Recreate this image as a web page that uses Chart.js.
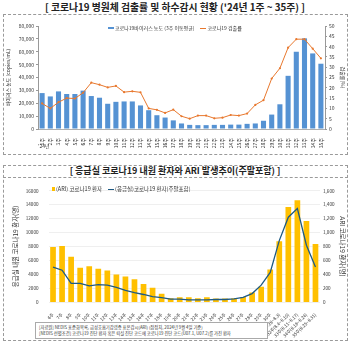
<!DOCTYPE html>
<html>
<head>
<meta charset="utf-8">
<script src="https://cdn.jsdelivr.net/npm/chart.js@4.4.1/dist/chart.umd.min.js"></script>
<style>
  body { margin: 0; width: 350px; height: 341px; background: #fff; position: relative; overflow: hidden;
         font-family: "Noto Sans CJK KR", "Noto Sans", sans-serif; color: #222; }
  .title { position: absolute; left: 0; width: 350px; text-align: center; font-weight: bold; font-size: 9px; line-height: 12px; }
  .box { position: absolute; border: 1px dashed #9a9a9a; box-sizing: border-box; }
  .legend { position: absolute; display: flex; align-items: center; font-size: 5px; line-height: 6px; white-space: nowrap; color: #333; }
  .legend span.sw { display: inline-block; margin-right: 1px; }
  canvas { position: absolute; }
  .note { position: absolute; left: 35px; top: 322px; width: 233px; height: 17px; border: 1px solid #aaa; box-sizing: border-box;
          background: #fff; font-size: 4.3px; line-height: 5.5px; padding: 2px 3px; white-space: nowrap; overflow: hidden; color: #333; }
</style>
</head>
<body>
<div class="title" style="top:1px; font-size:9.8px">[ 코로나19 병원체 검출률 및 하수감시 현황 ('24년 1주 ~ 35주) ]</div>
<div class="box" style="left:3px; top:14px; width:345px; height:141px"></div>
<div class="box" style="left:3px; top:165px; width:345px; height:176px"></div>
<div class="box" style="left:3px; top:165px; width:345px; height:13px; border-left:none; border-right:none; border-top:none"></div>
<div class="title" style="top:165px">[ 응급실 코로나19 내원 환자와 ARI 발생추이(주말포함) ]</div>

<canvas id="chart1" width="345" height="140" style="left:3px; top:15px; width:345px; height:140px"></canvas>
<canvas id="chart2" width="345" height="162" style="left:3px; top:178px; width:345px; height:162px"></canvas>

<div class="legend" id="legend1" style="left:108px; top:25px"></div>
<div class="legend" id="legend2" style="left:52px; top:186px; font-size:5.5px"></div>

<div class="note">
  [자료원] NEDIS 표준화목록, 급성호흡기감염증 표본감시(ARI) (잠정치, 2024년 9월 4일 기준)<br>
  [NEDIS 선별조건] 코로나19 진단 환자 혹은 퇴실 진단 코드에 코로나19 진단 코드(U07.1, U07.2)를 가진 환자
</div>

<script>
// 상단 차트: 하수 감시 바이러스 농도 + 병원체 검출률
const topWeeks = ["1주","2주","3주","4주","5주","6주","7주","8주","9주","10주","11주","12주","13주","14주","15주","16주","17주","18주",
  "19주","20주","21주","22주","23주","24주","25주","26주","27주","28주","29주","30주","31주","32주","33주","34주","35주"];
const virusConc = [27900, 25300, 29200, 27200, 27200, 29800, 25600, 24300, 19600, 21100, 21400, 21400, 18300, 14600, 10700, 8900, 6700, 4300,
  3200, 3000, 3000, 3200, 3200, 3400, 3400, 4000, 4300, 6400, 11200, 19200, 41300, 60000, 70400, 58700, 50700];
const detectRate = [12.4, 10.0, 13.0, 15.0, 14.8, 17.6, 22.5, 21.5, 20.2, 20.9, 17.9, 18.3, 17.8, 10.0, 9.3, 7.8, 9.4, 6.2,
  5.0, 6.5, 6.5, 5.2, 5.5, 6.8, 6.5, 7.5, 11.7, 14.0, 24.5, 29.5, 39.5, 43.6, 43.6, 39.0, 34.3];
const topLeftTicks = [0, 10000, 20000, 30000, 40000, 50000, 60000, 70000, 80000];
const topRightTicks = [0, 5, 10, 15, 20, 25, 30, 35, 40, 45, 50];

// 하단 차트: 응급실 / ARI 코로나19 환자
const bottomWeeks = ["6주","7주","8주","9주","10주","11주","12주","13주","14주","15주","16주","17주","18주","19주","20주",
  "21주","22주","23주","24주","25주","26주","27주","28주","29주","30주",
  "31주(7.28~8.3)","32주(8.4~8.10)","33주(8.11~8.17)","34주(8.18~8.24)","35주(8.25~8.31)"];
const ariPatients = [790, 807, 650, 493, 516, 480, 453, 395, 368, 327, 260, 206, 117, 54, 70,
  67, 54, 67, 49, 49, 54, 72, 135, 220, 466, 874, 1368, 1462, 1166, 834];
const erPatients = [5020, 4570, 2690, 2690, 2330, 2510, 2420, 2110, 1660, 1350, 1080, 760, 630, 400, 400,
  310, 310, 310, 360, 360, 450, 670, 1210, 2420, 4260, 8830, 12200, 13450, 8160, 5020];
const bottomLeftTicks = [0, 2000, 4000, 6000, 8000, 10000, 12000, 14000, 16000];
const bottomRightTicks = [0, 200, 400, 600, 800, 1000, 1200, 1400, 1600];

const blue = "#5592D3", orange = "#E8782E", gold = "#FFC000", navy = "#1E5A84";
const axisFont = { family: "Noto Sans CJK KR", size: 5 };
const fmt = v => v.toLocaleString("en-US");

const chart1 = new Chart(document.getElementById("chart1"), {
  data: {
    labels: topWeeks,
    datasets: [
      { type: "line", label: "코로나19 검출률", data: detectRate, yAxisID: "y1", borderColor: orange, backgroundColor: orange,
        borderWidth: 1, pointRadius: 1.1, pointBorderWidth: 0, order: 0 },
      { type: "bar", label: "코로나19바이러스 농도 (3주 이동평균)", data: virusConc, yAxisID: "y", backgroundColor: blue,
        barPercentage: 0.62, categoryPercentage: 1, order: 1 }
    ]
  },
  options: {
    responsive: false, animation: false,
    layout: { padding: { top: 11, bottom: 6, left: 0, right: 0 } },
    plugins: { legend: { display: false }, tooltip: { enabled: false } },
    scales: {
      x: {
        grid: { display: false }, border: { color: "#b0b0b0" },
        ticks: { font: axisFont, color: "#333", autoSkip: false, minRotation: 90, maxRotation: 90, padding: 1 },
        title: { display: true, text: "'24년", align: "start", font: axisFont, color: "#333", padding: 0 },
        afterFit(s) { s.height = 20; }
      },
      y: {
        min: 0, max: 80000,
        afterBuildTicks(s) { s.ticks = topLeftTicks.map(v => ({ value: v })); },
        ticks: { font: axisFont, color: "#333", callback: fmt, padding: 2 },
        grid: { display: true, drawOnChartArea: false, tickLength: 2, color: "#999" }, border: { color: "#999" },
        title: { display: true, text: "바이러스 농도 (copies/mL)", font: axisFont, color: "#333", padding: { top: 2, bottom: 0 } },
        afterFit(s) { s.width = 35; }
      },
      y1: {
        position: "right", min: 0, max: 50,
        afterBuildTicks(s) { s.ticks = topRightTicks.map(v => ({ value: v })); },
        ticks: { font: axisFont, color: "#333", padding: 2 },
        grid: { display: true, drawOnChartArea: false, tickLength: 2, color: "#999" }, border: { color: "#999" },
        title: { display: true, text: "검출률(%)", font: axisFont, color: "#333", padding: { top: 2, bottom: 2 } },
        afterFit(s) { s.width = 23; }
      }
    }
  }
});

const chart2 = new Chart(document.getElementById("chart2"), {
  data: {
    labels: bottomWeeks,
    datasets: [
      { type: "line", label: "(응급실)코로나19 환자(주말포함)", data: erPatients, yAxisID: "y", borderColor: navy,
        backgroundColor: navy, borderWidth: 1.3, pointRadius: 0, order: 0 },
      { type: "bar", label: "(ARI) 코로나19 환자", data: ariPatients, yAxisID: "y1", backgroundColor: gold,
        barPercentage: 0.63, categoryPercentage: 1, order: 1 }
    ]
  },
  options: {
    responsive: false, animation: false,
    layout: { padding: { top: 5, bottom: 0, left: 0, right: 0 } },
    plugins: { legend: { display: false }, tooltip: { enabled: false } },
    scales: {
      x: {
        grid: { display: false }, border: { display: false },
        ticks: { font: { family: "Noto Sans CJK KR", size: 4.5 }, color: "#333", autoSkip: false, minRotation: 45, maxRotation: 45, padding: 2 },
        afterFit(s) { s.height = 38; }
      },
      y: {
        min: 0, max: 16000,
        afterBuildTicks(s) { s.ticks = bottomLeftTicks.map(v => ({ value: v })); },
        ticks: { font: { family: "Noto Sans CJK KR", size: 4.6 }, color: "#333", callback: v => String(v), padding: 10 },
        grid: { color: "#efefef", drawTicks: false }, border: { display: false },
        title: { display: true, text: "응급실 내원 코로나19 환자(명)", font: { family: "Noto Sans CJK KR", size: 6.5 }, color: "#333", padding: { top: 9, bottom: 0 } },
        afterFit(s) { s.width = 45.5; }
      },
      y1: {
        position: "right", min: 0, max: 1600,
        afterBuildTicks(s) { s.ticks = bottomRightTicks.map(v => ({ value: v })); },
        ticks: { font: { family: "Noto Sans CJK KR", size: 4.6 }, color: "#333", callback: fmt, padding: 3 },
        grid: { display: false, drawTicks: false }, border: { display: false },
        title: { display: true, text: "ARI 코로나19 환자(명)", font: { family: "Noto Sans CJK KR", size: 6.5 }, color: "#333", padding: { top: 2, bottom: 2 } },
        afterFit(s) { s.width = 28; }
      }
    }
  }
});

// 범례: 데이터셋 라벨과 색으로 HTML 범례 생성
function buildLegend(chart, el, order) {
  order.forEach((i, k) => {
    const ds = chart.data.datasets[i];
    const item = document.createElement("div");
    item.style.display = "flex"; item.style.alignItems = "center";
    item.style.marginRight = k === 0 ? "6px" : "0";
    const sw = document.createElement("span");
    sw.className = "sw";
    if (ds.type === "bar" && chart === chart2) {
      sw.style.width = "3px"; sw.style.height = "4px"; sw.style.background = ds.backgroundColor;
    } else {
      sw.style.width = "6px"; sw.style.height = ds.type === "bar" ? "2px" : "1px";
      sw.style.background = ds.type === "bar" ? ds.backgroundColor : ds.borderColor;
    }
    const tx = document.createElement("span");
    tx.textContent = ds.label;
    item.appendChild(sw); item.appendChild(tx);
    el.appendChild(item);
  });
}
buildLegend(chart1, document.getElementById("legend1"), [1, 0]);
buildLegend(chart2, document.getElementById("legend2"), [1, 0]);
</script>
</body>
</html>
